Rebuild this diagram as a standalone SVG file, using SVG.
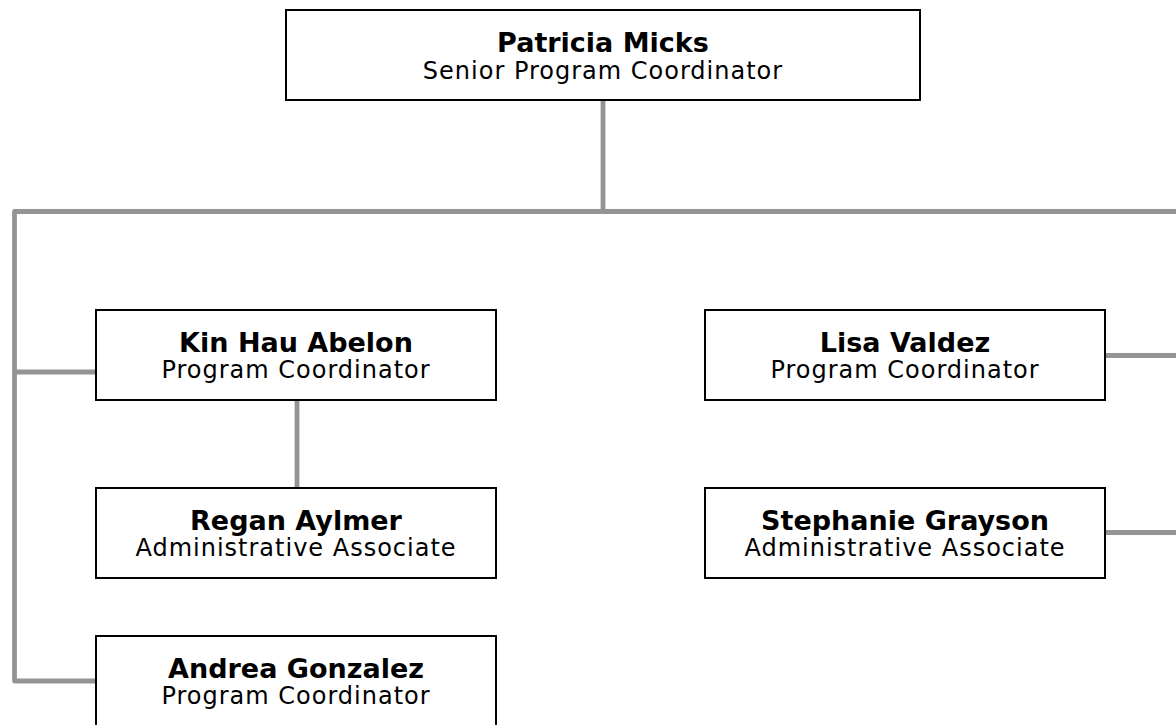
<svg xmlns="http://www.w3.org/2000/svg" width="1176" height="725" viewBox="0 0 1176 725">
  <style>
    .box { fill: #ffffff; stroke: #000000; stroke-width: 2; }
    .conn { fill: none; stroke: #949494; stroke-width: 4.8; stroke-linejoin: round; }
    .name { font-family: "DejaVu Sans", "Liberation Sans", sans-serif; font-weight: bold; font-size: 27px; fill: #000000; text-anchor: middle; }
    .title { font-family: "DejaVu Sans", "Liberation Sans", sans-serif; font-size: 24px; letter-spacing: 1px; fill: #000000; text-anchor: middle; }
  </style>
  <rect width="1176" height="725" fill="#ffffff"/>
  <g id="connectors">
    <path class="conn" d="M603,100 V211.5"/>
    <path class="conn" d="M1178,211.5 H14.5 V681 H96"/>
    <path class="conn" d="M14.5,372 H96"/>
    <path class="conn" d="M297,400 V488"/>
    <path class="conn" d="M1105,355.5 H1178"/>
    <path class="conn" d="M1105,532.5 H1178"/>
  </g>
  <g id="node-patricia">
    <rect class="box" x="286" y="10" width="634" height="90"/>
    <text class="name" x="603" y="52">Patricia Micks</text>
    <text class="title" x="603" y="79">Senior Program Coordinator</text>
  </g>
  <g id="node-kinhau">
    <rect class="box" x="96" y="310" width="400" height="90"/>
    <text class="name" x="296" y="352">Kin Hau Abelon</text>
    <text class="title" x="296" y="378">Program Coordinator</text>
  </g>
  <g id="node-lisa">
    <rect class="box" x="705" y="310" width="400" height="90"/>
    <text class="name" x="905" y="352">Lisa Valdez</text>
    <text class="title" x="905" y="378">Program Coordinator</text>
  </g>
  <g id="node-regan">
    <rect class="box" x="96" y="488" width="400" height="90"/>
    <text class="name" x="296" y="530">Regan Aylmer</text>
    <text class="title" x="296" y="556">Administrative Associate</text>
  </g>
  <g id="node-stephanie">
    <rect class="box" x="705" y="488" width="400" height="90"/>
    <text class="name" x="905" y="530">Stephanie Grayson</text>
    <text class="title" x="905" y="556">Administrative Associate</text>
  </g>
  <g id="node-andrea">
    <rect class="box" x="96" y="636" width="400" height="92"/>
    <text class="name" x="296" y="678">Andrea Gonzalez</text>
    <text class="title" x="296" y="704">Program Coordinator</text>
  </g>
</svg>
